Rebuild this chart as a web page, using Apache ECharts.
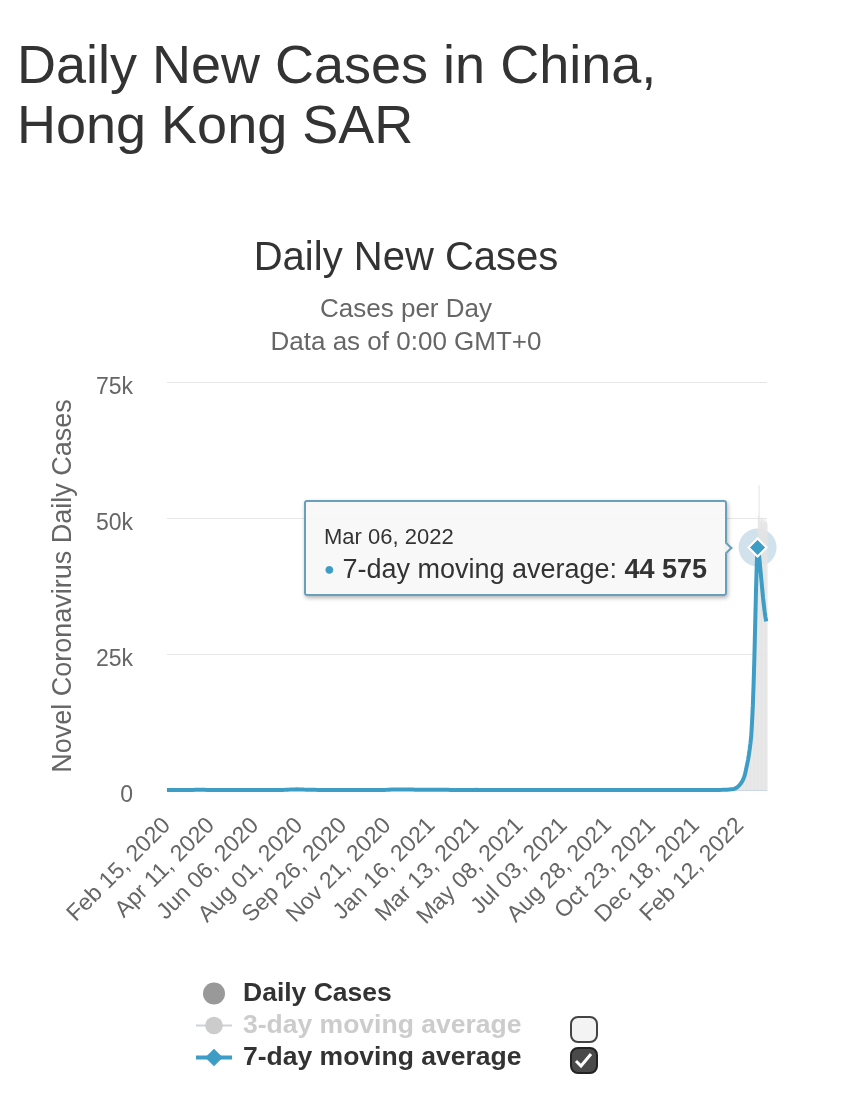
<!DOCTYPE html>
<html>
<head>
<meta charset="utf-8">
<script src="https://cdn.jsdelivr.net/npm/echarts@6/dist/echarts.min.js"></script>
<style>
  html, body { margin: 0; padding: 0; background: #fff; }
  #chart { width: 846px; height: 1100px; }
</style>
</head>
<body>
<div id="chart"></div>
<script>
/* ---------------------------------- data ---------------------------------- */
const startDate = "2020-02-15";
const peakDate = "Mar 06, 2022";

// 7-day moving average, one row per month (Feb 15, 2020 .. Mar 17, 2022)
const sevenDayAvg = [
  3,3,3,2,2,2,2,2,2,2,2,1,1,1,1,
  1,1,1,2,2,2,2,2,2,2,3,3,4,5,6,8,10,13,16,19,23,27,31,35,38,41,42,42,40,38,36,
  34,31,28,25,22,19,16,14,12,10,8,6,5,4,3,3,2,2,2,1,1,1,1,1,1,1,0,0,0,0,
  0,0,0,0,0,0,0,0,0,0,0,1,1,1,1,1,1,1,1,1,1,1,1,1,1,1,1,1,1,1,1,
  1,1,1,2,2,2,2,2,2,2,2,2,2,3,3,3,3,3,3,3,3,3,3,3,3,3,3,2,2,2,
  2,2,2,3,4,5,7,9,12,16,20,24,28,33,38,44,50,56,62,70,78,86,94,100,106,110,114,118,117,114,110,
  106,101,96,91,86,82,78,74,70,66,62,58,54,51,48,45,42,40,37,34,31,28,26,23,21,19,17,15,14,12,11,
  10,9,9,8,8,7,7,7,6,6,6,6,5,5,5,5,5,6,6,6,6,6,7,7,7,8,8,8,8,8,
  8,8,8,8,8,8,8,8,8,9,9,9,9,9,8,8,8,8,7,7,7,7,7,7,7,6,6,6,6,6,6,
  6,6,5,5,5,5,5,6,6,6,7,7,8,8,9,10,12,15,19,24,30,38,48,58,68,76,82,86,88,90,
  90,92,94,96,98,98,98,96,96,94,92,90,88,86,85,84,82,80,78,76,74,72,70,68,66,64,63,62,61,60,60,
  59,58,57,56,56,56,57,58,60,62,64,65,66,66,66,65,64,63,62,61,60,58,56,54,52,50,48,46,44,42,40,
  38,36,34,32,30,28,26,24,22,20,19,18,17,16,15,14,14,14,14,14,13,13,13,13,12,12,12,12,
  12,12,12,12,12,13,14,16,18,20,22,24,24,24,23,22,20,18,16,15,14,13,12,11,10,10,10,10,9,9,8,
  8,8,8,7,7,7,6,6,6,5,5,5,5,4,4,4,4,4,4,4,4,4,3,3,3,3,3,3,2,2,
  2,2,2,2,2,2,2,2,2,2,2,2,2,1,1,1,1,1,1,1,1,1,1,1,1,1,1,1,1,1,1,
  1,1,1,1,1,1,1,1,2,2,2,2,2,2,1,1,1,1,1,1,1,1,1,1,2,2,2,2,2,2,
  2,2,2,2,2,2,2,2,3,3,3,3,3,3,3,3,3,3,3,3,2,2,2,2,2,2,2,2,2,2,2,
  2,2,2,2,2,2,2,2,2,2,2,2,2,2,2,2,2,1,1,1,1,1,1,1,1,1,1,1,1,1,1,
  1,1,1,1,1,1,1,1,1,1,1,1,1,1,1,1,1,1,1,1,1,1,1,1,1,1,1,1,1,1,
  1,1,1,1,1,1,1,1,1,1,1,1,1,1,1,1,2,2,2,2,2,2,2,2,2,2,2,2,2,2,2,
  2,2,2,2,2,2,2,2,2,2,2,2,2,2,2,2,2,2,2,2,2,2,2,2,2,2,2,2,2,2,
  2,2,2,2,2,2,2,2,2,2,3,3,3,3,3,3,3,3,4,4,4,4,4,4,4,4,4,5,5,5,5,
  5,6,7,8,9,10,12,14,16,18,20,21,22,22,22,22,22,23,24,25,27,29,33,38,46,56,70,86,100,112,124,
  140,150,160,180,220,300,380,480,600,740,900,1060,1250,1450,1700,2000,2400,2900,3500,4200,4900,5600,6500,7500,8600,10000,12500,15500,
  19500,24500,30500,36500,41500,44575,44100,43000,41500,40000,38400,36800,35300,34000,32800,31800,31000
];

// daily cases, one row per month (Feb 15, 2020 .. Mar 18, 2022)
const dailyCases = [
  3,5,2,2,3,1,1,2,4,2,1,1,2,1,0,
  1,0,1,4,2,2,2,1,1,2,5,3,6,5,8,10,11,20,23,25,36,20,34,27,49,51,33,64,15,34,31,
  29,37,27,40,24,19,16,12,6,8,5,2,4,2,4,3,3,2,1,1,1,0,1,0,0,1,0,1,0,0,
  1,1,0,0,0,1,0,0,0,0,0,1,0,4,0,0,0,0,2,0,0,0,2,0,0,1,0,0,0,1,1,
  4,2,1,2,1,1,0,0,2,3,3,2,2,3,4,5,2,3,6,1,1,4,3,2,5,4,3,0,2,1,
  1,1,4,6,5,10,13,12,24,40,38,32,46,52,19,67,64,58,104,108,75,111,118,107,125,112,145,100,118,145,120,
  125,105,80,85,70,95,65,60,69,57,38,39,65,59,50,44,28,31,25,28,24,20,20,20,17,16,22,17,11,9,8,
  9,10,9,5,8,11,6,7,8,6,10,5,1,8,9,3,2,5,9,6,2,5,11,13,17,11,3,5,1,7,
  5,9,7,14,5,12,12,10,7,4,14,16,5,4,3,5,15,8,12,7,12,4,10,5,11,12,6,3,7,5,5,
  6,4,5,7,5,4,14,7,6,8,15,2,2,6,8,13,24,24,29,43,26,68,73,81,84,66,93,103,80,78,
  76,100,106,97,92,89,78,88,98,102,105,103,86,64,70,84,68,66,56,92,65,71,56,58,90,56,45,51,81,60,30,
  53,59,47,35,36,35,42,52,69,55,66,60,66,64,70,56,55,57,45,60,79,59,67,63,68,49,72,54,21,31,33,
  26,19,26,18,20,28,24,26,13,12,15,22,14,23,15,12,9,8,11,10,9,14,7,8,12,13,12,11,
  9,8,6,11,20,6,8,16,11,9,31,16,8,19,14,8,11,5,10,7,11,7,6,8,10,10,11,8,7,4,6,
  5,4,5,9,8,10,6,7,3,6,3,7,7,5,2,9,7,5,4,6,4,2,2,4,3,2,1,3,1,2,
  6,1,5,1,1,3,3,3,1,2,1,1,4,1,0,0,0,1,1,1,2,1,1,2,0,1,1,2,1,1,0,
  0,3,0,1,0,1,1,1,2,2,1,3,1,3,1,0,2,2,0,0,2,0,1,1,3,1,1,2,1,1,
  4,2,2,5,1,3,3,4,0,2,2,4,1,3,0,2,6,3,5,1,2,3,1,0,2,1,3,1,2,1,1,
  2,0,2,3,3,2,2,2,1,2,1,3,3,2,1,1,2,1,1,0,0,3,1,1,2,1,1,2,1,0,0,
  0,2,2,1,0,1,0,1,1,1,1,2,0,2,1,1,1,0,1,1,1,0,2,0,0,1,1,2,1,1,
  2,0,1,0,0,2,1,2,1,1,1,0,1,2,3,0,4,3,2,0,1,1,2,2,3,2,2,1,2,3,2,
  1,4,1,1,3,2,2,2,3,2,1,2,0,3,0,2,1,2,1,4,2,3,1,0,2,2,4,1,1,1,
  2,1,2,2,3,3,2,4,1,2,3,4,2,3,4,3,3,2,6,3,4,5,5,4,4,3,6,3,6,8,3,
  7,6,8,10,11,12,14,18,15,22,19,17,24,27,13,20,32,24,11,22,18,29,54,62,64,58,104,98,82,92,106,
  142,131,146,181,212,280,350,460,560,700,860,1010,1200,1400,1650,1950,2300,2800,3400,4100,4800,5500,6400,7300,8500,9800,12300,15200,
  19200,24000,30000,36000,41000,44000,50500,56000,50200,49400,49800,50100,49000,49600,49900,49200,49500,49000
];

const threeDayAvg = []; // hidden series (unchecked in the legend)

const yTicks = [0, 25000, 50000, 75000];
const yTickLabels = ["0", "25k", "50k", "75k"];

/* -------------------------------- helpers --------------------------------- */
const MONTHS = ["Jan", "Feb", "Mar", "Apr", "May", "Jun", "Jul", "Aug", "Sep", "Oct", "Nov", "Dec"];
const dates = [];
const d0 = new Date(startDate + "T00:00:00Z");
for (let i = 0; i < dailyCases.length; i++) {
  const d = new Date(d0.getTime() + i * 86400000);
  dates.push(`${MONTHS[d.getUTCMonth()]} ${String(d.getUTCDate()).padStart(2, "0")}, ${d.getUTCFullYear()}`);
}
const peakIdx = dates.indexOf(peakDate);

const FONT = '"Liberation Sans", Arial, Helvetica, sans-serif';
const LINE = "#3d9dc5";

const sevenDayData = sevenDayAvg.map((v, i) =>
  i === peakIdx
    ? { value: v, symbolSize: 18, itemStyle: { color: LINE, borderColor: "#fff", borderWidth: 2 } }
    : v
);

/* --------------------------------- chart ---------------------------------- */
const chart = echarts.init(document.getElementById("chart"));

chart.setOption({
  animation: false,
  textStyle: { fontFamily: FONT },
  title: [
    {
      text: "Daily New Cases in China,\nHong Kong SAR",
      left: 17, top: 38, padding: 0,
      textStyle: { fontSize: 54, lineHeight: 60, fontWeight: "normal", color: "#333", fontFamily: FONT },
    },
    {
      text: "Daily New Cases",
      left: 406, top: 239, padding: 0, textAlign: "center",
      textStyle: { fontSize: 40, lineHeight: 40, fontWeight: "normal", color: "#333", fontFamily: FONT },
    },
    {
      text: "Cases per Day",
      left: 406, top: 297, padding: 0, textAlign: "center",
      textStyle: { fontSize: 26, lineHeight: 26, fontWeight: "normal", color: "#666", fontFamily: FONT },
    },
    {
      text: "Data as of 0:00 GMT+0",
      left: 406, top: 330, padding: 0, textAlign: "center",
      textStyle: { fontSize: 26, lineHeight: 26, fontWeight: "normal", color: "#666", fontFamily: FONT },
    },
  ],
  grid: { left: 167, right: 79, top: 382, bottom: 310, outerBoundsMode: "none" },
  xAxis: {
    type: "category",
    data: dates,
    boundaryGap: false,
    axisLine: { show: true, lineStyle: { color: "#ccd6eb", width: 1 } },
    axisTick: { show: false },
    axisLabel: { interval: 55, rotate: 45, margin: 32, fontSize: 23, color: "#666", fontFamily: FONT },
    splitLine: { show: false },
  },
  yAxis: {
    type: "value",
    min: yTicks[0],
    max: yTicks[yTicks.length - 1],
    interval: yTicks[1] - yTicks[0],
    name: "Novel Coronavirus Daily Cases",
    nameLocation: "middle",
    nameRotate: 90,
    nameGap: 90,
    nameTextStyle: { fontSize: 27, color: "#666", fontFamily: FONT },
    axisLine: { show: false },
    axisTick: { show: false },
    axisLabel: {
      margin: 34, fontSize: 23, color: "#666", fontFamily: FONT,
      verticalAlign: "top", lineHeight: 12,
      formatter: (v) => yTickLabels[yTicks.indexOf(v)],
    },
    splitLine: { lineStyle: { color: "#e6e6e6", width: 1 } },
  },
  legend: {
    orient: "vertical",
    left: 194, top: 980, padding: 0,
    itemWidth: 36, itemHeight: 22, itemGap: 5,
    inactiveColor: "#ccc",
    textStyle: {
      fontSize: 26.5, fontWeight: "bold", color: "#333", lineHeight: 26,
      fontFamily: FONT, padding: [0, 0, 0, 6],
    },
    lineStyle: { width: 4 },
    selected: { "3-day moving average": false },
    data: [
      { name: "Daily Cases", icon: "circle", itemStyle: { color: "#999" } },
      "3-day moving average",
      "7-day moving average",
    ],
  },
  tooltip: {
    trigger: "item",
    alwaysShowContent: true,
    position: "left",
    padding: [20, 18, 8, 18],
    backgroundColor: "rgba(247,247,247,0.92)",
    borderColor: "#6a9fba",
    borderWidth: 2,
    transitionDuration: 0,
    textStyle: { fontFamily: FONT, color: "#333" },
    extraCssText: "margin-left:-10px;border-radius:3px;box-shadow:1px 2px 4px rgba(0,0,0,0.3);",
    formatter: (p) => {
      const v = String(p.value).replace(/\B(?=(\d{3})+(?!\d))/g, " ");
      return (
        `<div style="font-size:22px;line-height:30px;color:#333">${p.name}</div>` +
        `<div style="font-size:27px;line-height:34px;color:#333">` +
        `<span style="color:${LINE};font-size:18px;vertical-align:3px">&#9679;</span> ` +
        `7-day moving average: <b>${v}</b></div>`
      );
    },
  },
  graphic: [
    {
      type: "rect", x: 571, y: 1017, silent: true,
      shape: { width: 26, height: 25, r: 7 },
      style: { fill: "#f3f3f3", stroke: "#444", lineWidth: 2 },
    },
    {
      type: "rect", x: 571, y: 1048, silent: true,
      shape: { width: 26, height: 25, r: 7 },
      style: { fill: "#4a4a4a", stroke: "#222", lineWidth: 2 },
    },
    {
      type: "polyline", x: 576, y: 1054, silent: true,
      shape: { points: [[0, 7], [5, 12], [15, 0]] },
      style: { stroke: "#fff", lineWidth: 3, fill: null },
    },
  ],
  series: [
    {
      name: "Daily Cases",
      type: "bar",
      data: dailyCases,
      barWidth: "100%",
      silent: true,
      itemStyle: { color: "#e4e4e4" },
      tooltip: { show: false },
    },
    {
      name: "3-day moving average",
      type: "line",
      data: threeDayAvg,
      symbol: "circle",
      itemStyle: { color: "#ccc" },
      lineStyle: { color: "#ccc" },
    },
    {
      name: "7-day moving average",
      type: "line",
      data: sevenDayData,
      symbol: "diamond",
      symbolSize: 0,
      showSymbol: true,
      showAllSymbol: true,
      itemStyle: { color: LINE },
      lineStyle: { color: LINE, width: 4 },
      emphasis: { disabled: true },
      markPoint: {
        silent: true,
        z: 1,
        symbol: "circle",
        symbolSize: 38,
        itemStyle: { color: "rgba(90,150,185,0.28)" },
        label: { show: false },
        data: [{ coord: [peakIdx, sevenDayAvg[peakIdx]] }],
      },
    },
  ],
});

chart.dispatchAction({ type: "showTip", seriesIndex: 2, dataIndex: peakIdx });
</script>
</body>
</html>
